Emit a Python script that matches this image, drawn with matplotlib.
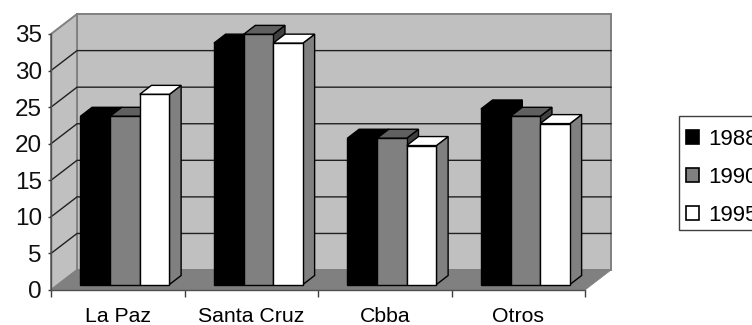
import matplotlib
matplotlib.use("Agg")
import matplotlib.pyplot as plt
from matplotlib.patches import Patch, Polygon, Rectangle

plt.rcParams['font.family'] = ['Liberation Sans', 'DejaVu Sans']

categories = ['La Paz', 'Santa Cruz', 'Cbba', 'Otros']
years = ['1988', '1990', '1995']
v1988 = [23, 33, 20, 24]
v1990 = [23, 34.2, 20, 23]
v1995 = [26, 33, 19, 22]
y_ticks = [0, 5, 10, 15, 20, 25, 30, 35]

series = [v1988, v1990, v1995]
front_colors = ['#000000', '#808080', '#ffffff']
top_colors = ['#000000', '#606060', '#ffffff']
side_colors = ['#000000', '#404040', '#808080']

# depth of the fake 3d box, in data units
depth_x = 0.195
depth_y = 2.73
bar_w = 2 / 9
margin = 1 / 6
# bars stand in the middle of the floor
near = 0.275
far = 0.725

fig = plt.figure(figsize=(7.52, 3.25), dpi=100)
ax = fig.add_axes([51 / 752, 1 - 290 / 325, 534 / 752, 256 / 325])
ax.set_xlim(0, len(categories))
ax.set_ylim(0, 35)
ax.patch.set_visible(False)


def poly(pts, face, edge, lw, z):
    ax.add_patch(Polygon(pts, closed=True, facecolor=face, edgecolor=edge,
                         linewidth=lw, zorder=z, clip_on=False, joinstyle='miter'))


n = len(categories)
# back wall, side wall, floor
poly([(depth_x, depth_y), (n + depth_x, depth_y), (n + depth_x, 35 + depth_y), (depth_x, 35 + depth_y)],
     '#c0c0c0', '#808080', 1.4, 1)
poly([(0, 0), (depth_x, depth_y), (depth_x, 35 + depth_y), (0, 35)], '#c0c0c0', '#808080', 1.4, 1)
poly([(0, 0), (n, 0), (n + depth_x, depth_y), (depth_x, depth_y)], '#808080', '#808080', 0.5, 2)

# gridlines along wall
for t in y_ticks[1:-1]:
    ax.plot([0, depth_x, n + depth_x], [t, t + depth_y, t + depth_y], color='#202020', lw=1.0, zorder=2,
            clip_on=False, solid_joinstyle='miter')

z = 3
for i in range(n):
    for j, vals in enumerate(series):
        x0 = i + margin + j * bar_w + near * depth_x
        x1 = x0 + bar_w
        y0 = near * depth_y
        y1 = y0 + vals[i]
        dx = (far - near) * depth_x
        dy = (far - near) * depth_y
        poly([(x1, y0), (x1 + dx, y0 + dy), (x1 + dx, y1 + dy), (x1, y1)], side_colors[j], 'black', 1.0, z)
        poly([(x0, y1), (x1, y1), (x1 + dx, y1 + dy), (x0 + dx, y1 + dy)], top_colors[j], 'black', 1.0, z)
        poly([(x0, y0), (x1, y0), (x1, y1), (x0, y1)], front_colors[j], 'black', 1.0, z)
        z += 1

ax.set_xticks(range(n + 1))
ax.set_xticklabels([])
ax.set_yticks(y_ticks)
ax.tick_params(axis='y', labelsize=17.5, length=2, width=1, color='#404040', pad=4.5, labelcolor='#101010')
ax.tick_params(axis='x', length=5, width=1, color='#404040', direction='out')
for s in ['top', 'right']:
    ax.spines[s].set_visible(False)
for s in ['left', 'bottom']:
    ax.spines[s].set_color('#505050')
    ax.spines[s].set_linewidth(1)
    ax.spines[s].set_zorder(30)
for i, c in enumerate(categories):
    ax.annotate(c, (i + 0.5, 0), xytext=(0, -18.8), textcoords='offset points', ha='center', va='center',
                fontsize=15.3, annotation_clip=False)

# legend box runs off the right edge, so the frame is drawn on its own
fig.add_artist(Rectangle((678.5 / 752, 1 - 230 / 325), 90 / 752, 114 / 325, transform=fig.transFigure,
                         facecolor='white', edgecolor='#404040', linewidth=1.0))
handles = [Patch(facecolor=front_colors[j], edgecolor='black', linewidth=1.2, label=years[j]) for j in range(3)]
leg = fig.legend(handles=handles, loc='upper left', bbox_to_anchor=(686 / 752, 1 - 128.5 / 325), fontsize=16,
                 frameon=False, handlelength=0.6, handleheight=0.6,
                 handletextpad=0.38, labelspacing=0.78, borderpad=0, borderaxespad=0)
leg.set_zorder(5)

fig.savefig('out.png', dpi=100)
